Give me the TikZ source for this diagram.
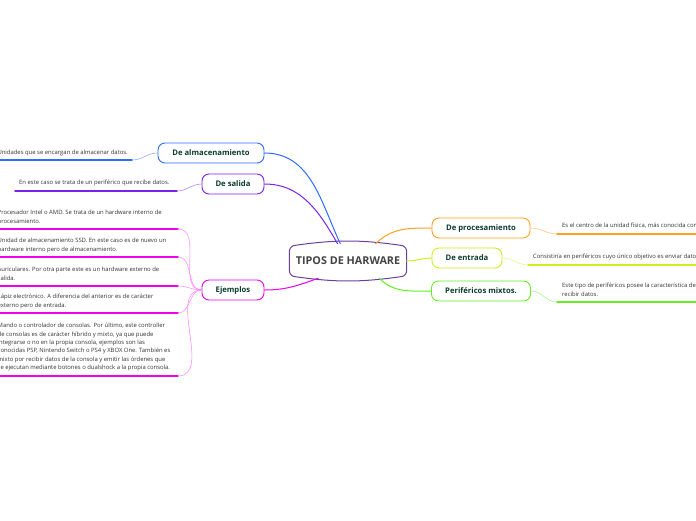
\documentclass[tikz,border=0pt]{standalone}
\usepackage{fontspec}
\setmainfont{Open Sans}
\usepackage{xcolor}
\definecolor{tiposborder}{HTML}{6B3FA0}
\definecolor{tipostext}{HTML}{444444}
\definecolor{topictext}{HTML}{0C3B2E}
\definecolor{notetext}{HTML}{333333}
\definecolor{almblue}{HTML}{2F6BFF}
\definecolor{almlight}{HTML}{8FB0FF}
\definecolor{salpurple}{HTML}{7A22E8}
\definecolor{sallight}{HTML}{B08AF5}
\definecolor{ejemag}{HTML}{EE00EE}
\definecolor{ejelight}{HTML}{FF90FF}
\definecolor{procorange}{HTML}{FFA01E}
\definecolor{proclight}{HTML}{FFC880}
\definecolor{entyellow}{HTML}{CCF01A}
\definecolor{entlight}{HTML}{E4F885}
\definecolor{mixgreen}{HTML}{66EE22}
\definecolor{mixlight}{HTML}{A8F590}

\begin{document}
\begin{tikzpicture}[x=1pt,y=-1pt,line cap=round,
  topic/.style={draw,fill=white,rounded corners=7pt,line width=0.9pt,minimum height=20pt,inner xsep=0pt,font=\fontsize{7.7}{9}\selectfont\bfseries,text=topictext},
  note/.style={inner sep=0pt,align=left,font=\fontsize{5.9}{8.4}\selectfont,text=notetext},
  branch/.style={line width=1pt},
  uline/.style={line width=1.8pt},
  twig/.style={line width=0.6pt}]
\useasboundingbox (0,0) rectangle (696,520);

\node[minimum width=117pt,minimum height=34pt,font=\fontsize{10.8}{12}\selectfont\bfseries,text=tipostext] (tipos) at (348,261) {TIPOS DE HARWARE};
\draw[tiposborder,line width=1pt] ([shift={(0,8)}]tipos.north west) to[out=90,in=180] ([shift={(6,1.5)}]tipos.north west)
  to[out=8,in=172] ([shift={(-6,1.5)}]tipos.north east) to[out=0,in=90] ([shift={(0,8)}]tipos.north east)
  -- ([shift={(0,-8)}]tipos.south east) to[out=-90,in=0] ([shift={(-6,-1.5)}]tipos.south east)
  to[out=188,in=-8] ([shift={(6,-1.5)}]tipos.south west) to[out=180,in=-90] ([shift={(0,-8)}]tipos.south west) -- cycle;

\node[topic,draw=almblue,minimum width=106pt] (alm) at (211,153) {De almacenamiento};
\node[topic,draw=salpurple,minimum width=62pt] (sal) at (233,184) {De salida};
\node[topic,draw=ejemag,minimum width=62pt] (ejem) at (233,290) {Ejemplos};
\node[topic,draw=procorange,minimum width=98pt] (proc) at (481,228) {De procesamiento};
\node[topic,draw=entyellow,minimum width=70pt] (ent) at (467,258) {De entrada};
\node[topic,draw=mixgreen,minimum width=99pt] (mix) at (481,291) {Periféricos mixtos.};

\draw[branch,almblue] (alm.east) to[out=0,in=115] (tipos.114);
\draw[branch,salpurple] (sal.east) to[out=0,in=120] (tipos.121);
\draw[branch,ejemag] (ejem.east) to[out=0,in=200] (tipos.210);
\draw[branch,procorange] (tipos.32) to[out=45,in=180] (proc.west);
\draw[branch,entyellow] (tipos.east) to[out=0,in=180] (ent.west);
\draw[branch,mixgreen] (tipos.331) to[out=-45,in=180] (mix.west);

% left side notes
\node[note,anchor=east] (almtxt) at (128,153) {Unidades que se encargan de almacenar datos.};
\coordinate (almbeg) at (-5,160);
\coordinate (almend) at (132,160);
\draw[uline,almblue] (almbeg) -- (almend);
\draw[twig,almlight] (almend) to[out=0,in=180] (alm.west);

\node[note,anchor=west] (saltxt) at (19,183) {En este caso se trata de un periférico que recibe datos.};
\coordinate (salbeg) at (15,191);
\coordinate (salend) at (177,191);
\draw[uline,salpurple] (salbeg) -- (salend);
\draw[twig,sallight] (salend) to[out=0,in=180] (sal.west);

\node[note,anchor=north west] (ej1) at (-2.5,210) {Procesador Intel o AMD. Se trata de un hardware interno de\\procesamiento.};
\node[note,anchor=north west] (ej2) at (-2.5,238) {Unidad de almacenamiento SSD. En este caso es de nuevo un\\hardware interno pero de almacenamiento.};
\node[note,anchor=north west] (ej3) at (-2.5,267) {Auriculares. Por otra parte este es un hardware externo de\\salida.};
\node[note,anchor=north west] (ej4) at (-2.5,294) {Lápiz electrónico. A diferencia del anterior es de carácter\\externo pero de entrada.};
\node[note,anchor=north west] (ej5) at (-2.5,323) {Mando o controlador de consolas. Por último, este controller\\de consolas es de carácter híbrido y mixto, ya que puede\\integrarse o no en la propia consola, ejemplos son las\\conocidas PSP, Nintendo Switch o PS4 y XBOX One. También es\\mixto por recibir datos de la consola y emitir las órdenes que\\se ejecutan mediante botones o dualshock a la propia consola.};
\coordinate (ej1beg) at (-5,229);
\coordinate (ej1end) at (178,229);
\coordinate (ej2beg) at (-5,257);
\coordinate (ej2end) at (178,257);
\coordinate (ej3beg) at (-5,286);
\coordinate (ej3end) at (178,286);
\coordinate (ej4beg) at (-5,313);
\coordinate (ej4end) at (178,313);
\coordinate (ej5beg) at (-5,376);
\coordinate (ej5end) at (178,376);
\draw[uline,ejemag] (ej1beg) -- (ej1end);
\draw[uline,ejemag] (ej2beg) -- (ej2end);
\draw[uline,ejemag] (ej3beg) -- (ej3end);
\draw[uline,ejemag] (ej4beg) -- (ej4end);
\draw[uline,ejemag] (ej5beg) -- (ej5end);
\draw[twig,ejelight] (ej1end) to[out=0,in=180] (ejem.west);
\draw[twig,ejelight] (ej2end) to[out=0,in=180] (ejem.west);
\draw[twig,ejelight] (ej3end) to[out=0,in=180] (ejem.west);
\draw[twig,ejelight] (ej4end) to[out=0,in=180] (ejem.west);
\draw[twig,ejelight] (ej5end) to[out=0,in=180] (ejem.west);

% right side notes
\node[note,anchor=west] (proctxt) at (562,226) {Es el centro de la unidad física, más conocida como CPU.};
\coordinate (procbeg) at (557,234);
\coordinate (procend) at (700,234);
\draw[uline,procorange] (procbeg) -- (procend);
\draw[twig,proclight] (proc.east) to[out=0,in=180] (procbeg);

\node[note,anchor=west] (enttxt) at (533,257) {Consistiría en periféricos cuyo único objetivo es enviar datos.};
\coordinate (entbeg) at (528,265);
\coordinate (entend) at (700,265);
\draw[uline,entyellow] (entbeg) -- (entend);
\draw[twig,entlight] (ent.east) to[out=0,in=180] (entbeg);

\node[note,anchor=north west] (mixtxt) at (562,283) {Este tipo de periféricos posee la característica de enviar y\\recibir datos.};
\coordinate (mixbeg) at (557,302);
\coordinate (mixend) at (700,302);
\draw[uline,mixgreen] (mixbeg) -- (mixend);
\draw[twig,mixlight] (mix.east) to[out=0,in=180] (mixbeg);
\end{tikzpicture}
\end{document}
